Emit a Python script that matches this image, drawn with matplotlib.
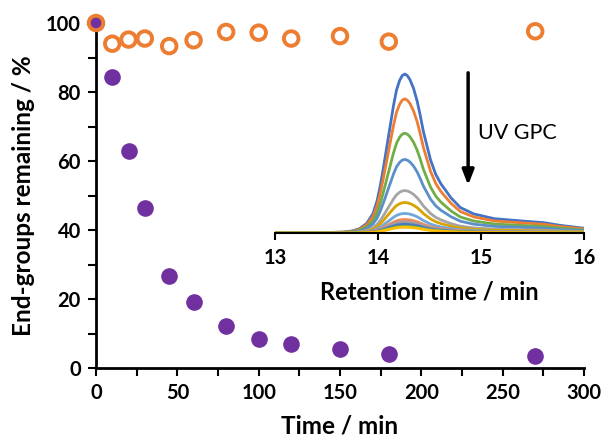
import matplotlib
matplotlib.use("Agg")
import matplotlib.pyplot as plt
import numpy as np

plt.rcParams['font.family'] = ['Lato', 'DejaVu Sans']

# =========================
# data
# =========================
time_min = [0, 10, 20, 30, 45, 60, 80, 100, 120, 150, 180, 270]
total_pct = [100, 94.0, 95.2, 95.5, 93.3, 95.0, 97.4, 97.2, 95.5, 96.2, 94.6, 97.6]
endgroup_pct = [100, 84.4, 62.8, 46.3, 26.7, 19.2, 12.3, 8.5, 7.0, 5.5, 4.2, 3.6]

# UV GPC trace (top curve, normalised)
rt_min = [13.0, 13.3, 13.5, 13.66, 13.75, 13.82, 13.89, 13.95, 13.99, 14.02,
          14.05, 14.08, 14.12, 14.15, 14.18, 14.21, 14.235, 14.26, 14.285,
          14.31, 14.345, 14.38, 14.41, 14.44, 14.51, 14.56, 14.61, 14.71,
          14.8, 14.93, 15.13, 15.39, 15.61, 15.77, 16.0]
uv_norm = [0.0, 0.001, 0.003, 0.006, 0.013, 0.027, 0.06, 0.12, 0.2, 0.29,
           0.4, 0.52, 0.68, 0.8, 0.9, 0.96, 0.99, 1.0, 0.99,
           0.965, 0.91, 0.83, 0.74, 0.64, 0.46, 0.37, 0.31, 0.22,
           0.16, 0.12, 0.09, 0.076, 0.065, 0.048, 0.03]
# peak heights of the 12 traces (same samples as the scatter)
uv_peaks = endgroup_pct
uv_colors = ['#4472C4', '#ED7D31', '#70AD47', '#5B8FC9', '#A5A5A5', '#D9A300',
             '#6FA8DC', '#F0895A', '#A0A0A0', '#4A78C0', '#70AD47', '#FFC000']

fig = plt.figure(figsize=(6.03, 4.41), dpi=100)

# main axes
ax = fig.add_axes([96 / 603, 1 - 368 / 441, 488 / 603, 345 / 441])
ax.scatter(time_min, endgroup_pct, s=120, color='#7030A0', zorder=3, clip_on=False)
ax.scatter(time_min, total_pct, s=110, facecolor='none', edgecolor='#ED7D31',
           linewidths=2.8, zorder=4, clip_on=False)

ax.set_xlim(0, 300)
ax.set_ylim(0, 100)
ax.set_xticks(range(0, 301, 50))
ax.set_xticks(range(0, 301, 25), minor=True)
ax.set_yticks(range(0, 101, 20))
ax.set_yticks(range(0, 101, 10), minor=True)
for s in ['top', 'right']:
    ax.spines[s].set_visible(False)
for s in ['left', 'bottom']:
    ax.spines[s].set_linewidth(2)
ax.tick_params(which='both', direction='out', width=1.5, length=6, labelsize=14.5, pad=5)
for lab in ax.get_xticklabels() + ax.get_yticklabels():
    lab.set_fontweight('bold')
ax.set_xlabel('Time / min', fontsize=17.5, fontweight='bold', labelpad=8)
ax.set_ylabel('End-groups remaining / %', fontsize=17.5, fontweight='bold', labelpad=8)

# inset: UV GPC traces
ins = fig.add_axes([275 / 603, 1 - 233 / 441, 309 / 603, 168 / 441])
ins.patch.set_alpha(0)
trace = np.array(uv_norm)
for h, c in zip(uv_peaks, uv_colors):
    ins.plot(rt_min, trace * h, color=c, lw=2, solid_joinstyle='round')
ins.set_xlim(13, 16)
ins.set_ylim(0, 105.7)
ins.set_xticks([13, 14, 15, 16])
ins.set_yticks([])
for s in ['top', 'right', 'left']:
    ins.spines[s].set_visible(False)
ins.spines['bottom'].set_linewidth(1.5)
ins.tick_params(axis='x', direction='out', width=1.5, length=5, labelsize=14.5, pad=6)
for lab in ins.get_xticklabels():
    lab.set_fontweight('bold')
ins.set_xlabel('Retention time / min', fontsize=17, fontweight='bold', labelpad=9)

ins.annotate('', xy=(0.625, 0.268), xytext=(0.625, 0.97), xycoords='axes fraction',
             arrowprops=dict(arrowstyle='-|>,head_width=0.35,head_length=0.9',
                             color='black', lw=2.5))
ins.text(0.657, 0.595, 'UV GPC', transform=ins.transAxes, fontsize=15.5,
         va='center', ha='left')

fig.savefig('out.png', dpi=100)
